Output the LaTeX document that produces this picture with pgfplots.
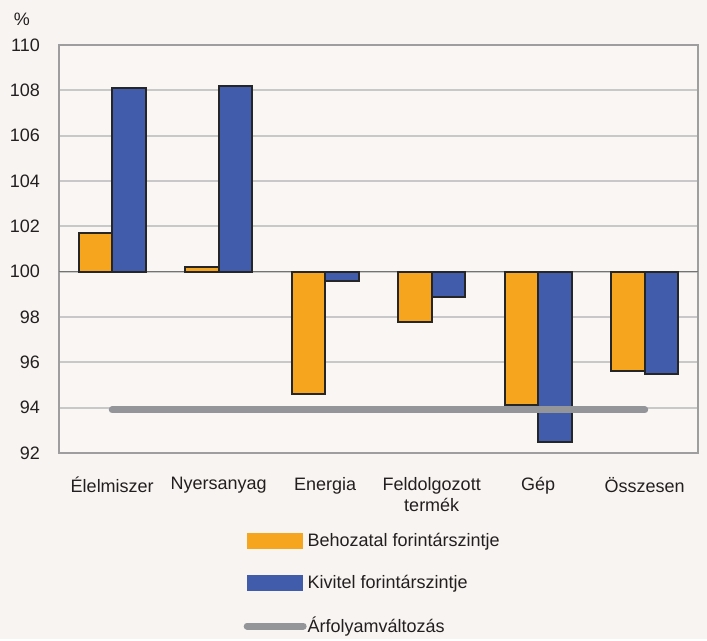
\documentclass[border=0pt]{standalone}
\usepackage{pgfplots}
\pgfplotsset{compat=1.18}
\usepackage{pgfplotstable}
\usepackage{fontspec}
\setmainfont{Liberation Sans}
\definecolor{bg}{RGB}{247,244,241}
\definecolor{plotbg}{RGB}{249,246,243}
\definecolor{imp}{RGB}{246,166,30}
\definecolor{exp}{RGB}{64,92,170}
\definecolor{rate}{RGB}{148,149,153}
\definecolor{gridc}{RGB}{200,200,200}
\definecolor{txt}{RGB}{35,31,32}
\pgfplotstableread{
x imp exp
0 101.7 108.1
1 100.2 108.2
2 94.6 99.6
3 97.8 98.9
4 94.1 92.5
5 95.6 95.5
}\bars
\pgfplotstableread{
x rate
0 93.9
5 93.9
}\rateline
\begin{document}
\begin{tikzpicture}
\fill[bg] (0,0) rectangle (353.5pt,319.5pt);
\begin{axis}[
  name=ax,
  at={(29.5pt,93pt)}, anchor=south west,
  scale only axis, width=319.5pt, height=204pt,
  font=\fontsize{9pt}{10.5pt}\selectfont,
  xmin=-0.5, xmax=5.5, ymin=-8, ymax=10,
  xtick={0,...,5},
  xticklabels={Élelmiszer, Nyersanyag, Energia, {Feldolgozott\\termék}, Gép, Összesen},
  xticklabel style={align=center, text=txt, yshift=-8.5pt},
  ytick={-8,-6,...,10},
  yticklabels={92,94,96,98,100,102,104,106,108,110},
  yticklabel style={text=txt, xshift=-6pt},
  major tick length=0pt,
  ymajorgrids, grid style={gridc, line width=1.1pt},
  extra y ticks={0}, extra y tick labels={},
  extra y tick style={grid style={black!55, line width=0.8pt}},
  axis line style={black!38, line width=1pt},
  axis background/.style={fill=plotbg},
  ybar, bar width=16.75pt,
  legend style={at={(axis description cs:0.279,-0.183)}, anchor=north west,
    draw=none, fill=none, row sep=11.8pt, font=\fontsize{9pt}{10.5pt}\selectfont, text=txt,
    nodes={inner sep=0.5pt}},
  legend cell align=left,
  clip=false,
]
\addplot[bar shift=-8.375pt, fill=imp, draw=black!85, line width=1pt,
  legend image code/.code={\fill[imp] (2pt,-3.5pt) rectangle (29pt,3.5pt);}]
  table[x=x, y expr=\thisrow{imp}-100] {\bars};
\addlegendentry{Behozatal forintárszintje}
\addplot[bar shift=8.375pt, fill=exp, draw=black!85, line width=1pt,
  legend image code/.code={\fill[exp] (2pt,-3.5pt) rectangle (29pt,3.5pt);}]
  table[x=x, y expr=\thisrow{exp}-100] {\bars};
\addlegendentry{Kivitel forintárszintje}
\addplot[sharp plot, rate, line width=3.5pt, line cap=round,
  legend image code/.code={\draw[rate, line width=3.5pt, line cap=round] (1.5pt,0pt) -- (29.5pt,0pt);}]
  table[x=x, y expr=\thisrow{rate}-100] {\rateline};
\addlegendentry{Árfolyamváltozás}
\end{axis}
\node[text=txt, font=\fontsize{9pt}{10.5pt}\selectfont] at ([shift={(-18.5pt,13pt)}]ax.north west) {\%};
\end{tikzpicture}
\end{document}
